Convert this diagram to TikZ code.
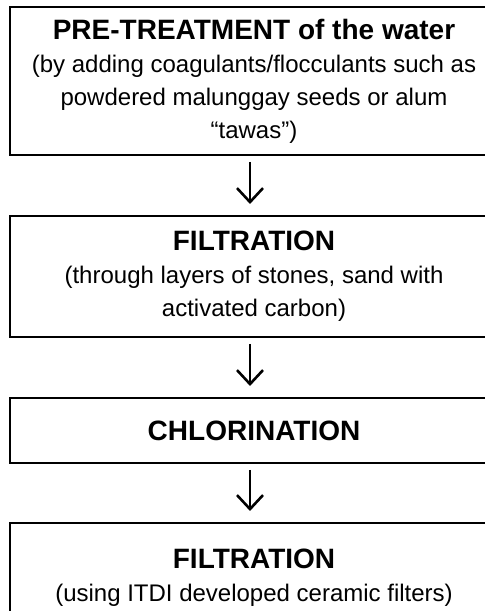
\documentclass[tikz,border=0pt]{standalone}
\usepackage{fontspec}
\setmainfont{Liberation Sans}
\usetikzlibrary{arrows.meta}
\newcommand{\stephead}{\fontsize{14}{16.5}\selectfont\bfseries}

\begin{document}
\begin{tikzpicture}[x=1pt,y=1pt,
    stagebox/.style={draw, line width=1pt, minimum width=244pt, inner sep=0pt,
      align=center, font=\fontsize{12}{16.5}\selectfont},
    flowarrow/.style={line width=1.2pt, shorten <=3pt, shorten >=5.5pt,
      -{Straight Barb[length=7pt,width=13pt,line width=1.3pt]}}]
  \useasboundingbox (0,0) rectangle (242,305.5);

  % treatment steps, top to bottom
  \node[stagebox, minimum height=74pt] (pretreat) at (127,265)
    {{\stephead PRE-TREATMENT of the water}\\
     (by adding coagulants/flocculants such as\\
     powdered malunggay seeds or alum\\
     “tawas”)};
  \node[stagebox, minimum height=60.5pt] (sandfilter) at (127,167.25)
    {{\stephead FILTRATION}\\
     (through layers of stones, sand with\\
     activated carbon)};
  \node[stagebox, minimum height=32.5pt] (chlorine) at (127,90.25)
    {{\stephead CHLORINATION}};
  \node[stagebox, minimum height=55pt] (ceramic) at (127,16.5)
    {{\stephead FILTRATION}\\
     (using ITDI developed ceramic filters)};

  % arrows between the steps
  \draw[flowarrow] ([xshift=-2pt]pretreat.south) -- ([xshift=-2pt]sandfilter.north);
  \draw[flowarrow] ([xshift=-2pt]sandfilter.south) -- ([xshift=-2pt]chlorine.north);
  \draw[flowarrow] ([xshift=-2pt]chlorine.south) -- ([xshift=-2pt]ceramic.north);
\end{tikzpicture}
\end{document}
